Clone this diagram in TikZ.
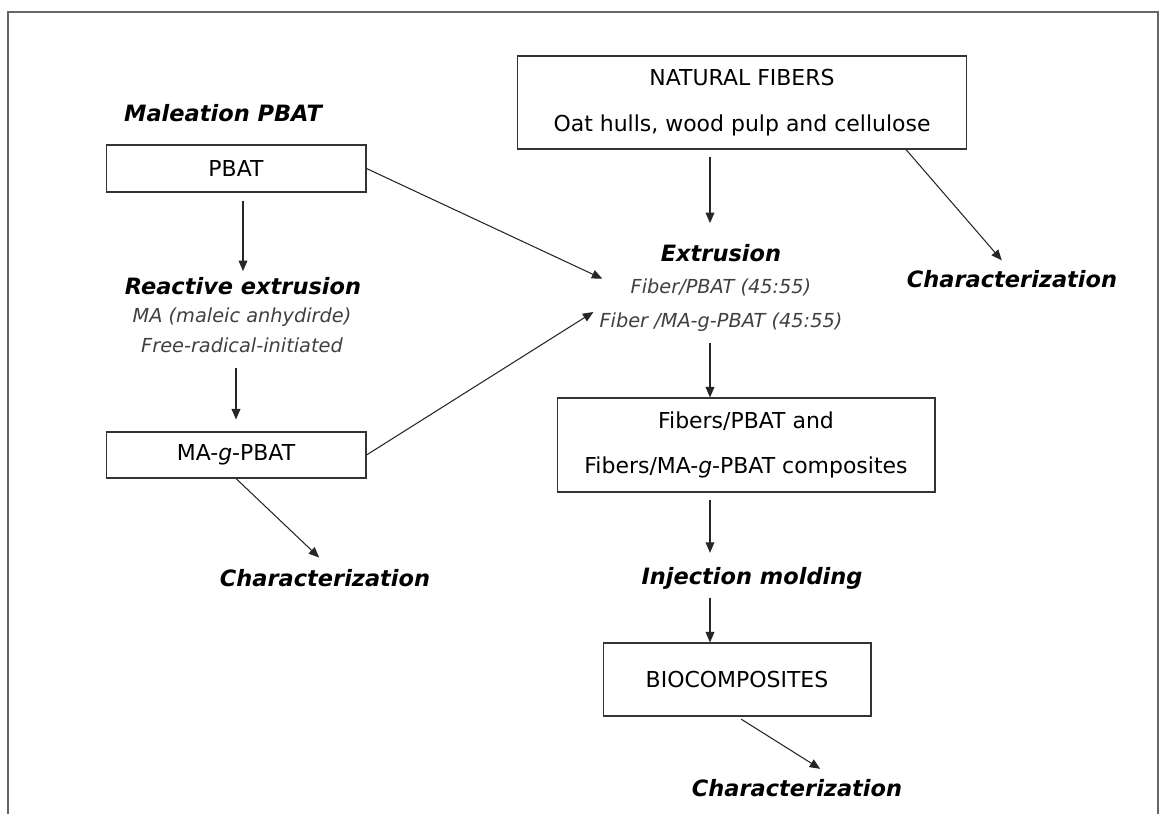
\documentclass[tikz,border=0pt]{standalone}
\usepackage{fontspec}
\setmainfont{DejaVu Sans}[ItalicFont={DejaVu Sans Oblique},BoldItalicFont={DejaVu Sans Bold Oblique}]
\usetikzlibrary{arrows.meta}
\begin{document}
\begin{tikzpicture}[x=.02cm, y=-.02cm, font=\fontsize{12.5}{15}\selectfont,
  box/.style={draw=black!80, line width=.6pt, align=center, inner sep=0pt},
  stage/.style={font=\fontsize{12.8}{15}\selectfont\bfseries\itshape},
  note/.style={font=\fontsize{11}{13}\selectfont\itshape, text=black!75, align=center},
  arr/.style={-{Triangle[length=6pt,width=5pt]}, draw=black!85, line width=.6pt}]
\useasboundingbox (0,0) rectangle (1166,814);
\draw[black!60, line width=.8pt] (8,814) -- (8,12) -- (1158,12) -- (1158,814);

\node[stage] (maleation) at (223,113) {Maleation PBAT};
\node[box, minimum width=5.2cm, minimum height=.94cm] (pbat) at (236,168.5) {PBAT};
\node[stage] (rex) at (243,286) {Reactive extrusion};
\node[note] (rexnote) at (242,330) {MA (maleic anhydirde)\\[4pt]Free-radical-initiated};
\node[box, minimum width=5.2cm, minimum height=.92cm] (magp) at (236,455) {MA-\textit{g}-PBAT};
\node[stage] (charA) at (325,578) {Characterization};

\node[box, minimum width=9cm, minimum height=1.86cm] (nf) at (742,102.5) {NATURAL FIBERS\\[11pt]Oat hulls, wood pulp and cellulose};
\node[stage] (ext) at (721,253) {Extrusion};
\node[note] (extnote) at (721,305) {Fiber/PBAT (45:55)\\[6pt]Fiber /MA-g-PBAT (45:55)};
\node[stage] (charB) at (1012,279) {Characterization};
\node[box, minimum width=7.56cm, minimum height=1.88cm] (comp) at (746,445) {Fibers/PBAT and\\[11pt]Fibers/MA-\textit{g}-PBAT composites};
\node[stage] (inj) at (752,578) {Injection molding};
\node[box, minimum width=5.36cm, minimum height=1.46cm] (bio) at (737,679.5) {BIOCOMPOSITES};
\node[stage] (charC) at (797,788) {Characterization};
\coordinate (spine) at (710,0);

\draw[arr, shorten <=.16cm] (pbat.south -| rex.north) -- (rex.north);
\draw[arr, shorten <=.18cm, shorten >=.24cm] (rexnote.south -| magp.north) -- (magp.north);
\draw[arr, shorten >=.16cm] (magp.south) -- (charA.north);
\draw[arr] (pbat.east) -- ([xshift=.18cm, yshift=-.12cm]extnote.north west);
\draw[arr] (magp.east) -- ([yshift=-.14cm]extnote.west);
\draw[arr, shorten <=.14cm, shorten >=.3cm] (nf.south -| spine) -- (ext.north -| spine);
\draw[arr, shorten <=.12cm] (extnote.south -| spine) -- (comp.north -| spine);
\draw[arr, shorten <=.14cm, shorten >=.16cm] (comp.south -| spine) -- (inj.north -| spine);
\draw[arr, shorten <=.06cm] (inj.south -| spine) -- (bio.north -| spine);
\draw[arr, shorten >=.1cm] (nf.-16) -- (charB.115);
\draw[arr, shorten <=.1cm, shorten >=.16cm] (bio.south) -- ([xshift=.6cm]charC.north);
\end{tikzpicture}
\end{document}
